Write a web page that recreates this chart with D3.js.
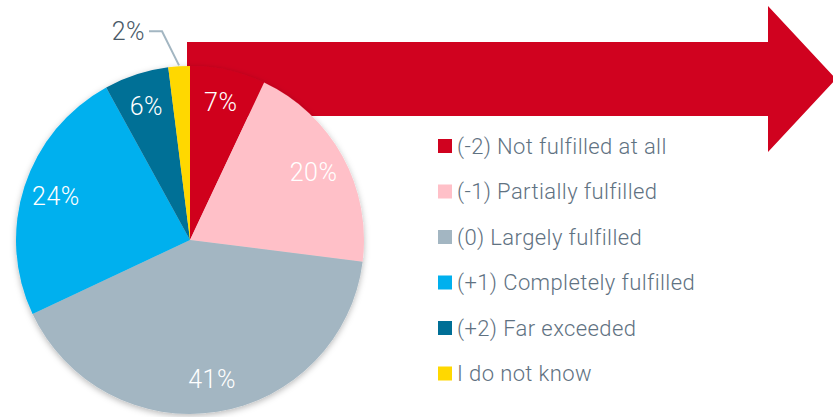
<!DOCTYPE html>
<html>
<head>
<meta charset="utf-8">
<script src="https://cdn.jsdelivr.net/npm/d3@7"></script>
<style>
  html, body { margin: 0; padding: 0; background: #ffffff; }
  svg { display: block; }
  text { font-family: "Roboto", "Open Sans", sans-serif; }
</style>
</head>
<body>
<svg id="chart" width="833" height="417"></svg>
<script>
// ---- data ----
const categories = [
  "(-2) Not fulfilled at all",
  "(-1) Partially fulfilled",
  "(0) Largely fulfilled",
  "(+1) Completely fulfilled",
  "(+2) Far exceeded",
  "I do not know"
];
const values = [7, 20, 41, 24, 6, 2];
const labels = ["7%", "20%", "41%", "24%", "6%", "2%"];
const colors = ["#d0021f", "#ffc0c8", "#a3b6c2", "#00b0ee", "#006f96", "#ffd800"];

// ---- layout ----
const W = 833, H = 417;
const cx = 190, cy = 240, R = 174;
const labelR = 141;

const svg = d3.select("#chart");

const defs = svg.append("defs");
const f = defs.append("filter").attr("id", "shadow")
  .attr("x", "-20%").attr("y", "-20%").attr("width", "140%").attr("height", "140%");
f.append("feDropShadow").attr("dx", 0).attr("dy", 2)
  .attr("stdDeviation", 3).attr("flood-color", "#000").attr("flood-opacity", 0.28);

// ---- arrow (decoration) ----
const arrow = d3.path();
arrow.moveTo(187, 42);
arrow.lineTo(768, 42);
arrow.lineTo(768, 6);
arrow.lineTo(836, 79);
arrow.lineTo(768, 152);
arrow.lineTo(768, 116);
arrow.lineTo(187, 116);
arrow.closePath();
svg.append("path").attr("d", arrow.toString()).attr("fill", colors[0]);

// ---- pie ----
const pie = d3.pie().sort(null).value(d => d)(values);
const arc = d3.arc().innerRadius(0).outerRadius(R);
const labelArc = d3.arc().innerRadius(labelR).outerRadius(labelR);

const g = svg.append("g").attr("transform", `translate(${cx},${cy})`);
const slices = g.append("g").attr("filter", "url(#shadow)");
slices.selectAll("path").data(pie).join("path")
  .attr("d", arc)
  .attr("fill", (d, i) => colors[i]);

// inside labels (all except the tiny last slice)
g.selectAll("text.in").data(pie.filter((d, i) => i < values.length - 1)).join("text")
  .attr("class", "in")
  .attr("transform", d => `translate(${labelArc.centroid(d)})`)
  .attr("text-anchor", "middle")
  .attr("dy", "0.36em")
  .attr("fill", "#ffffff")
  .attr("font-size", 25)
  .attr("font-weight", 300)
  .attr("letter-spacing", 0.5)
  .text((d, i) => labels[i]);

// outside label for the small slice with leader line
const last = pie[pie.length - 1];
const mid = (last.startAngle + last.endAngle) / 2;
const p0 = [Math.sin(mid) * (R + 1), -Math.cos(mid) * (R + 1)];
const p1 = [p0[0] - 17, p0[1] - 34];
const p2 = [p1[0] - 13, p1[1]];
g.append("polyline")
  .attr("points", [p0, p1, p2].map(p => p.join(",")).join(" "))
  .attr("fill", "none")
  .attr("stroke", "#a3b6c2")
  .attr("stroke-width", 2);
g.append("text")
  .attr("x", p2[0] - 4).attr("y", p2[1])
  .attr("dy", "0.36em")
  .attr("text-anchor", "end")
  .attr("fill", "#4a5a68")
  .attr("font-size", 25)
  .attr("font-weight", 300)
  .attr("letter-spacing", 0.5)
  .text(labels[labels.length - 1]);

// ---- legend ----
const legendY = d3.scalePoint().domain(categories).range([146, 373.5]);
const lg = svg.append("g");
const rows = lg.selectAll("g").data(categories).join("g")
  .attr("transform", d => `translate(438,${legendY(d)})`);
rows.append("rect")
  .attr("x", 0).attr("y", -7).attr("width", 14).attr("height", 14)
  .attr("fill", (d, i) => colors[i]);
rows.append("text")
  .attr("x", 19).attr("y", 0).attr("dy", "0.36em")
  .attr("fill", "#5f7282")
  .attr("font-size", 22)
  .attr("font-weight", 300)
  .attr("letter-spacing", 0.4)
  .text(d => d);
</script>
</body>
</html>
